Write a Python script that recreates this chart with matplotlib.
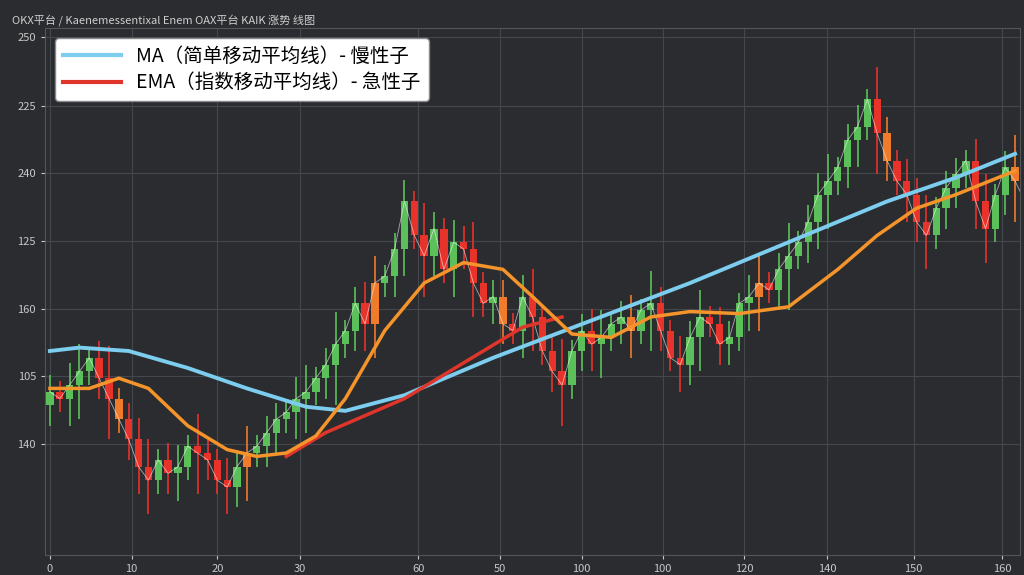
import matplotlib
matplotlib.use("Agg")
import matplotlib.pyplot as plt
import numpy as np

plt.rcParams['font.family'] = ['Noto Sans CJK SC', 'DejaVu Sans']

closes = [24,23,25,27,29,26, 23,20,17,13,11, 14,12,13,16,15, 14,11,10,13,15,
          16,18,20,21,23, 24,26,28,31,33, 37,34,40,41,45, 52,47,44,48,42,
          46,45,40,37,38, 34,33,38,35,30, 27,25,30,33,31, 32,34,35,33,36,
          37,33,29,28,32, 35,34,31,32,37, 38,40,39,42,44, 46,49,53,55,57,
          61,63,67,62,58, 55,53,49,47,51, 54,56,58,52, 48,53,57,55,52]
opens = [22] + closes[:-1]
wicks = [3,2,4,5,2,3,6,2,3,4,5,2,3,4,2,6,3,2,4,3,5,2,3]
ma_x = [0,3,8,14,20,26,30,36,45,55,65,75,85,92,98]
ma_y = [30,30.5,30,27.5,24.5,21.8,21.2,23.5,29,34.5,40,46,52,55.5,59]
ema_x = [0,4,7,10,14,18,21,24,27,30,34,38,42,46,49,53,57,61,65,70,75,80,84,88,92,98]
ema_y = [24.5,24.5,26,24.5,19,15.5,14.5,15,17.5,23,33,40,43,42,38,32.5,32,35,35.8,35.5,36.5,42,47,51,53,56.5]
red_x = [24,28,32,36,40,44,48,52]
red_y = [14.5,18,20.5,23,26.5,30,33.5,35]
xtick_pos = [0,8.3,17,25.4,37.4,45.7,54,62.2,70.5,78.9,87.7,96.7]
xtick_lab = ['0','10','20','30','60','50','100','100','120','140','150','160']
ytick_pos = [16.3,26.3,36.2,46.2,56.2,66.0,76.2]
ytick_lab = ['140','105','160','125','240','225','250']

bg = '#2a2c30'
fig = plt.figure(figsize=(10.24,5.75), dpi=100, facecolor=bg)
ax = fig.add_axes([45/1024, 20/575, 975/1024, 527/575], facecolor=bg)
for i,(o,c) in enumerate(zip(opens,closes)):
    w = wicks[i % len(wicks)]
    col = '#5cc05a' if c >= o else '#e8332a'
    if i % 13 == 7: col = '#f07b2a'
    lo, hi = min(o,c), max(o,c)
    ax.vlines(i, lo - w, hi + w*0.8, color=col, lw=1.2, zorder=2)
    ax.bar(i, max(hi-lo, 0.6), bottom=lo, width=0.75, color=col, zorder=3)
ax.plot(range(len(closes)), closes, color='white', lw=0.6, alpha=0.6, zorder=4)
ax.plot(ma_x, ma_y, color='#7ccdee', lw=2.8, zorder=5)
ax.plot(red_x, red_y, color='#e0352b', lw=2.5, zorder=5)
ax.plot(ema_x, ema_y, color='#f4942a', lw=2.5, zorder=6)
ax.set_xlim(-0.5, 98.5); ax.set_ylim(0, 77.5)
ax.set_xticks(xtick_pos, xtick_lab); ax.set_yticks(ytick_pos, ytick_lab)
ax.tick_params(colors='#c8c8c8', labelsize=8, length=3)
ax.grid(color='#44474d', lw=0.8)
for s in ax.spines.values(): s.set_color('#555')
from matplotlib.lines import Line2D
h = [Line2D([],[],color='#7ccdee',lw=3), Line2D([],[],color='#e0352b',lw=3)]
leg = ax.legend(h, ['MA（简单移动平均线）- 慢性子','EMA（指数移动平均线）- 急性子'],
                loc='upper left', fontsize=14, frameon=True, facecolor='white',
                edgecolor='#888', framealpha=1, handlelength=3, borderpad=0.4, labelspacing=0.3)
for t in leg.get_texts(): t.set_fontweight('medium')
fig.text(0.012, 0.975, 'OKX平台 / Kaenemessentixal Enem OAX平台 KAIK 涨势 线图',
         color='#cfcfcf', fontsize=8, va='top')
fig.savefig('out.png', dpi=100, facecolor=bg)
